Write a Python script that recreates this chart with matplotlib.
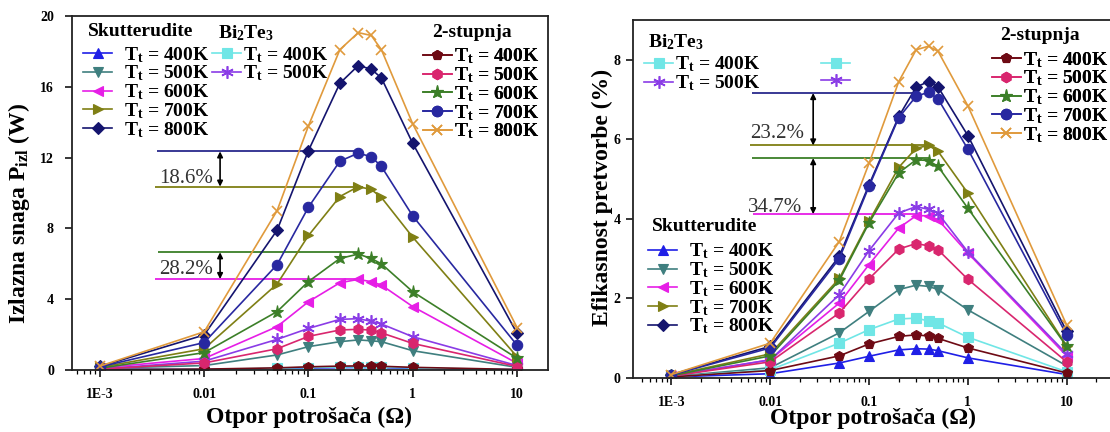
import numpy as np
import matplotlib
matplotlib.use('Agg')
import matplotlib.pyplot as plt

plt.rcParams['font.family'] = ['Liberation Serif', 'DejaVu Serif']
plt.rcParams['font.weight'] = 'bold'
plt.rcParams['mathtext.fontset'] = 'custom'
plt.rcParams['mathtext.rm'] = 'Liberation Serif:bold'
plt.rcParams['mathtext.bf'] = 'Liberation Serif:bold'
plt.rcParams['mathtext.it'] = 'Liberation Serif:bold'

# load resistance (Ohm)
R = [0.001, 0.01, 0.05, 0.1, 0.2, 0.3, 0.4, 0.5, 1, 10]

# output power (W)
P_sk400 = [0.05, 0.03, 0.08, 0.11, 0.13, 0.14, 0.13, 0.13, 0.09, 0.02]
P_sk500 = [0.10, 0.25, 0.85, 1.32, 1.60, 1.70, 1.65, 1.60, 1.09, 0.15]
P_sk600 = [0.12, 0.65, 2.45, 3.86, 4.93, 5.12, 4.99, 4.80, 3.58, 0.38]
P_sk700 = [0.15, 1.20, 4.86, 7.60, 9.80, 10.36, 10.20, 9.75, 7.50, 0.75]
P_sk800 = [0.20, 1.98, 7.90, 12.40, 16.20, 17.20, 17.00, 16.50, 12.80, 2.07]
P_bi400 = [0.02, 0.03, 0.10, 0.14, 0.17, 0.18, 0.17, 0.16, 0.12, 0.02]
P_bi500 = [0.05, 0.50, 1.73, 2.35, 2.86, 2.90, 2.75, 2.60, 1.88, 0.25]
P_st400 = [0.02, 0.05, 0.12, 0.18, 0.22, 0.23, 0.22, 0.21, 0.15, 0.03]
P_st500 = [0.05, 0.40, 1.20, 1.90, 2.26, 2.30, 2.25, 2.10, 1.50, 0.20]
P_st600 = [0.10, 0.98, 3.30, 5.00, 6.30, 6.55, 6.30, 6.00, 4.42, 0.66]
P_st700 = [0.18, 1.55, 5.95, 9.20, 11.80, 12.25, 12.05, 11.50, 8.70, 1.40]
P_st800 = [0.22, 2.16, 9.00, 13.80, 18.10, 19.06, 18.90, 18.10, 13.90, 2.40]

# conversion efficiency (%)
E_sk400 = [0.02, 0.10, 0.37, 0.54, 0.70, 0.73, 0.72, 0.68, 0.50, 0.08]
E_sk500 = [0.03, 0.25, 1.13, 1.67, 2.22, 2.33, 2.30, 2.22, 1.71, 0.30]
E_sk600 = [0.05, 0.45, 1.88, 2.85, 3.77, 4.08, 4.08, 3.98, 3.14, 0.55]
E_sk700 = [0.06, 0.60, 2.50, 3.94, 5.30, 5.78, 5.85, 5.70, 4.65, 0.80]
E_sk800 = [0.08, 0.79, 3.06, 4.86, 6.58, 7.32, 7.46, 7.32, 6.10, 1.17]
E_bi400 = [0.02, 0.20, 0.87, 1.21, 1.48, 1.50, 1.43, 1.38, 1.02, 0.15]
E_bi500 = [0.04, 0.45, 2.09, 3.20, 4.15, 4.31, 4.24, 4.14, 3.17, 0.60]
E_st400 = [0.02, 0.18, 0.55, 0.85, 1.04, 1.08, 1.05, 0.99, 0.75, 0.12]
E_st500 = [0.04, 0.40, 1.63, 2.49, 3.24, 3.38, 3.32, 3.22, 2.48, 0.40]
E_st600 = [0.05, 0.55, 2.45, 3.90, 5.16, 5.49, 5.47, 5.32, 4.27, 0.79]
E_st700 = [0.07, 0.75, 3.00, 4.82, 6.55, 7.09, 7.19, 7.02, 5.76, 1.08]
E_st800 = [0.08, 0.87, 3.43, 5.40, 7.46, 8.26, 8.35, 8.22, 6.85, 1.33]

temps = ['400K', '500K', '600K', '700K', '800K']
tick_vals = [1e-3, 1e-2, 0.1, 1, 10]
tick_labels = ['1E-3', '0.01', '0.1', '1', '10']
groups = ['Skutterudite', r'Bi$_\mathbf{2}$Te$_\mathbf{3}$', '2-stupnja']

# comparison lines: level, start, end
P_ann_y = [12.35, 10.36, 6.65, 5.14]
P_ann_x0 = [0.0035, 0.0034, 0.0036, 0.0034]
P_ann_x1 = [0.30, 0.33, 0.30, 0.30]
P_ann_pct = ['18.6%', '28.2%']
E_ann_y = [7.17, 5.85, 5.53, 4.12]
E_ann_x0 = [0.0065, 0.0063, 0.0065, 0.0067]
E_ann_x1 = [0.30, 0.40, 0.40, 0.30]
E_ann_pct = ['23.2%', '34.7%']

sk_col = ['#1f1fe6', '#3f7f7f', '#e61ee6', '#7f7f14', '#14146e']
sk_mk = ['^', 'v', '<', '>', 'D']
bi_col = ['#70e6e6', '#8a3ce6']
bi_mk = ['s', (6, 2, 0)]
st_col = ['#6e0a14', '#d9266e', '#3c7f28', '#2828a0', '#e09a3c']
st_mk = ['p', 'h', '*', 'o', 'x']
ann_col = ['#2a2a8c', '#7f7f14', '#3c7f28', '#e61ee6']

lab = [r'T$_\mathbf{t}$ = ' + t for t in temps]
FP = dict(family='Liberation Serif', weight='bold', size=14)


def ms_of(m):
    if m == 'D':
        return 6
    if m == '*':
        return 9.5
    if m == (6, 2, 0):
        return 9
    return 7.5


def draw(ax, xs, series, cols, mks):
    lines = []
    for y, c, m in zip(series, cols, mks):
        ln, = ax.plot(xs, y, color=c, marker=m, ms=ms_of(m), lw=1.2,
                      mec=c, mfc=c, mew=1.2 if m in ('x', (6, 2, 0)) else 0.8)
        lines.append(ln)
    return lines


def legend(ax, hs, ls, anchor, pad=0.1, ncol=1, colsp=2.0):
    leg = ax.legend(hs, ls, loc='upper left', bbox_to_anchor=anchor,
                    frameon=False, ncol=ncol, handlelength=1.5,
                    handletextpad=pad, labelspacing=-0.05, borderpad=0,
                    borderaxespad=0, columnspacing=colsp, prop=FP)
    ax.add_artist(leg)


def head(ax, txt, x, y, ha='center'):
    ax.text(x, y, txt, transform=ax.transAxes, ha=ha, va='center', fontproperties=FP)


def style(ax, xlim, ylim, yticks):
    ax.set_xscale('log')
    ax.set_xlim(*xlim)
    ax.set_ylim(*ylim)
    ax.set_xticks(tick_vals, tick_labels)
    ax.set_yticks(yticks)
    ax.tick_params(which='major', direction='out', length=5, width=1.1,
                   labelsize=10, pad=8, top=False, right=False)
    ax.tick_params(which='minor', direction='out', length=3, width=0.9)
    for lbl in ax.get_xticklabels() + ax.get_yticklabels():
        lbl.set_fontweight('bold')
    for s in ax.spines.values():
        s.set_linewidth(1.3)
        s.set_color('#222222')


def annotate(ax, ys, x0s, x1s, pcts, xarrow, txt_x, txt_y):
    for y, a, b, c in zip(ys, x0s, x1s, ann_col):
        ax.hlines(y, a, b, colors=c, lw=1.3, zorder=1)
    for k in range(2):
        ax.annotate('', xy=(xarrow, ys[2 * k]), xytext=(xarrow, ys[2 * k + 1]),
                    arrowprops=dict(arrowstyle='<|-|>', color='k', lw=1.2,
                                    mutation_scale=8, shrinkA=0, shrinkB=0))
        ax.text(txt_x[k], txt_y[k], pcts[k], fontsize=15, fontweight='normal',
                color='#333333', ha='left', va='center')


fig = plt.figure(figsize=(11.1, 4.32), dpi=100)
W, H = 1110.0, 432.0
ax1 = fig.add_axes([72 / W, 1 - 370 / H, (548 - 72) / W, (370 - 16) / H])
ax2 = fig.add_axes([633 / W, 1 - 377.7 / H, (1125 - 633) / W, 357.7 / H])

# ---- left: output power
sk = draw(ax1, R, [P_sk400, P_sk500, P_sk600, P_sk700, P_sk800], sk_col, sk_mk)
bi = draw(ax1, R, [P_bi400, P_bi500], bi_col, bi_mk)
st = draw(ax1, R, [P_st400, P_st500, P_st600, P_st700, P_st800], st_col, st_mk)
annotate(ax1, P_ann_y, P_ann_x0, P_ann_x1, P_ann_pct, 0.0142,
         [0.0037, 0.0037], [10.83, 5.65])
style(ax1, (5.4e-4, 19.8), (0, 20), [0, 4, 8, 12, 16, 20])
ax1.set_xlabel('Otpor potrošača (Ω)', fontsize=17, fontweight='bold')
ax1.set_ylabel(r'Izlazna snaga P$_\mathbf{izl}$ (W)', fontsize=17, fontweight='bold')
ax1.xaxis.set_label_coords(0.498, -0.105)
ax1.yaxis.set_label_coords(-0.084, 0.4435)
legend(ax1, sk, lab, (0.023, 0.918), pad=0.6)
legend(ax1, bi, lab[:2], (0.294, 0.918))
legend(ax1, st, lab, (0.737, 0.913))
head(ax1, groups[0], 0.144, 0.9556)
head(ax1, groups[1], 0.307, 0.952, ha='left')
head(ax1, groups[2], 0.840, 0.952)

# ---- right: efficiency
sk2 = draw(ax2, R, [E_sk400, E_sk500, E_sk600, E_sk700, E_sk800], sk_col, sk_mk)
bi2 = draw(ax2, R, [E_bi400, E_bi500], bi_col, bi_mk)
st2 = draw(ax2, R, [E_st400, E_st500, E_st600, E_st700, E_st800], st_col, st_mk)
annotate(ax2, E_ann_y, E_ann_x0, E_ann_x1, E_ann_pct, 0.0272,
         [0.0062, 0.0060], [6.16, 4.29])
style(ax2, (4.08e-4, 39), (0, 9.01), [0, 2, 4, 6, 8])
ax2.set_xlabel('Otpor potrošača (Ω)', fontsize=17, fontweight='bold')
ax2.set_ylabel('Efikasnost pretvorbe (%)', fontsize=17, fontweight='bold')
ax2.xaxis.set_label_coords((873 - 633) / 492, -0.085)
ax2.yaxis.set_label_coords(-0.04, 0.504)
ax2.tick_params(which='major', pad=4)
ax2.tick_params(axis='x', which='major', pad=8)
legend(ax2, bi2 + bi2, lab[:2] + ['', ''], (0.023, 0.903), ncol=2, colsp=3.1)
legend(ax2, sk2, lab, (0.031, 0.380), pad=0.6)
legend(ax2, st2, lab, (0.729, 0.916))
head(ax2, groups[1], 0.030, 0.9376, ha='left')
head(ax2, groups[0], 0.146, 0.422)
head(ax2, groups[2], 0.827, 0.958)

fig.savefig('out.png', dpi=100)
